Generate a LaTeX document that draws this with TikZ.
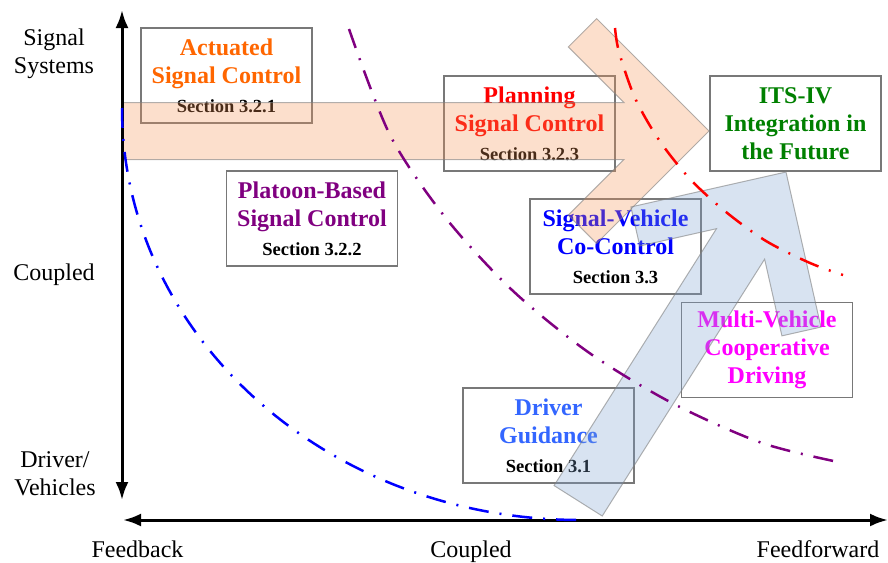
\documentclass[tikz,border=0pt]{standalone}
\usepackage{fontspec}
\setmainfont{Liberation Serif}
\usetikzlibrary{arrows.meta}
\definecolor{arrOrange}{RGB}{245,148,85}
\definecolor{arrBlue}{RGB}{125,162,208}
\definecolor{txtOrange}{RGB}{255,102,0}
\definecolor{txtGreen}{RGB}{0,128,0}
\definecolor{txtPurple}{RGB}{128,0,128}
\definecolor{txtMagenta}{RGB}{255,0,255}
\definecolor{txtLightBlue}{RGB}{51,102,255}
\definecolor{boxGray}{RGB}{120,120,120}
\newcommand\secline[1]{\\[1pt]{\color{black}\fontsize{18.5}{28}\selectfont #1}}
\begin{document}
\begin{tikzpicture}[x=1pt,y=-1pt,
 box/.style={draw=boxGray, line width=1.2pt, minimum width=171pt, minimum height=95pt, inner sep=0pt, align=center, font=\fontsize{24}{28}\selectfont\bfseries},
 lbl/.style={align=center, font=\fontsize{24}{28}\selectfont, inner sep=0pt},
 fatarrow/.style={line width=1pt, draw=black!50, draw opacity=0.6, fill opacity=0.3},
 curve/.style={line width=2.5pt, dash pattern=on 20pt off 11pt on 2pt off 11pt},
 axisline/.style={line width=3pt, {Latex[length=18pt,width=13pt]}-{Latex[length=18pt,width=13pt]}}
]
\useasboundingbox (0,0) rectangle (888,562);

% boxes
\node[box, text=txtOrange] (act) at (226.5,75.5) {Actuated\\Signal Control\secline{Section 3.2.1}};
\node[box, text=txtPurple] (plat) at (312,218.5) {Platoon-Based\\Signal Control\secline{Section 3.2.2}};
\node[box, text=red] (plan) at (529.5,123.5) {Planning\\Signal Control\secline{Section 3.2.3}};
\node[box, text=txtGreen] (its) at (795.5,123.5) {ITS-IV\\Integration in\\the Future};
\node[box, text=blue] (svc) at (615.5,246.5) {Signal-Vehicle\\Co-Control\secline{Section 3.3}};
\node[box, text=txtMagenta] (mvc) at (767,350) {Multi-Vehicle\\Cooperative\\Driving};
\node[box, text=txtLightBlue] (drg) at (548.5,435.5) {Driver\\Guidance\secline{Section 3.1}};

% fat arrows
\begin{scope}[shift={(709,131)}]
\path[fatarrow, fill=arrOrange] (-587,28.5) -- (-85.1,28.5) -- (-140.7,84.1) -- (-112.4,112.4) -- (0,0) -- (-112.4,-112.4) -- (-140.7,-84.1) -- (-85.1,-28.5) -- (-587,-28.5) -- cycle;
\end{scope}
\begin{scope}[shift={(786,172)}, rotate=57.7]
\path[fatarrow, fill=arrBlue] (-389,28.5) -- (-85.1,28.5) -- (-140.7,84.1) -- (-112.4,112.4) -- (0,0) -- (-112.4,-112.4) -- (-140.7,-84.1) -- (-85.1,-28.5) -- (-389,-28.5) -- cycle;
\end{scope}

% axes
\coordinate (ytop) at (122,10);
\coordinate (ybot) at (122,500);
\coordinate (xleft) at (123,520);
\coordinate (xright) at (888,520);
\draw[axisline] (ybot) -- (ytop);
\draw[axisline] (xleft) -- (xright);

% axis labels
\node[lbl] (sigsys) at (54,54) {Signal\\Systems};
\node[lbl, anchor=base] (ycoup) at (54,280) {Coupled};
\node[lbl] (drv) at (55,474) {Driver/\\Vehicles};
\node[lbl, anchor=base] (fb) at (137.5,557) {Feedback};
\node[lbl, anchor=base] (xcoup) at (471,557) {Coupled};
\node[lbl, anchor=base] (ff) at (818,557) {Feedforward};

% curves
\draw[curve, blue] (122,108) arc[start angle=180, end angle=270, x radius=458pt, y radius=412pt];
\draw[curve, txtPurple] plot[smooth] coordinates {(349,29) (390,135) (445,217) (512,290) (588,352) (672,403) (762,443) (843,463)};
\draw[curve, red] plot[smooth] coordinates {(615,28) (619,52) (635,98) (659,140) (690,179) (726,212) (766,241) (810,263) (843,275)};
\end{tikzpicture}
\end{document}
